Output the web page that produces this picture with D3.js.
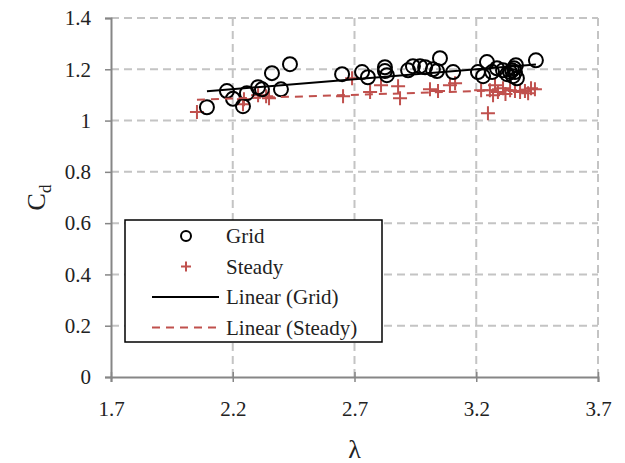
<!DOCTYPE html>
<html lang="en">
<head>
    <meta charset="UTF-8">
    <title>Cd vs lambda</title>
    <script src="https://d3js.org/d3.v7.min.js"></script>
    <style>
        html, body {
            padding: 0;
            margin: 0;
            background-color: white;
        }
    </style>
</head>
<body>
<script>
    // Grid points (lambda, Cd)
    const gridLambda = [2.094, 2.176, 2.201, 2.242, 2.258, 2.304, 2.320, 2.361, 2.398, 2.435,
        2.649, 2.731, 2.755, 2.825, 2.825, 2.833, 2.920, 2.940, 2.969, 2.990,
        3.022, 3.051, 3.039, 3.105, 3.207, 3.228, 3.244, 3.265, 3.285, 3.310,
        3.339, 3.351, 3.359, 3.355, 3.363, 3.445, 3.327, 3.347, 3.367];
    const gridCd = [1.052, 1.115, 1.085, 1.056, 1.107, 1.130, 1.122, 1.185, 1.122, 1.220,
        1.181, 1.189, 1.169, 1.208, 1.193, 1.177, 1.196, 1.212, 1.212, 1.208,
        1.200, 1.243, 1.193, 1.189, 1.189, 1.173, 1.228, 1.189, 1.204, 1.196,
        1.189, 1.173, 1.189, 1.204, 1.216, 1.235, 1.181, 1.196, 1.165];

    // Steady points (lambda, Cd)
    const steadyLambda = [2.053, 2.242, 2.246, 2.304, 2.337, 2.349, 2.653, 2.690, 2.764, 2.809,
        2.879, 2.887, 3.010, 3.043, 3.092, 3.113, 3.220, 3.248, 3.256, 3.277,
        3.289, 3.310, 3.339, 3.359, 3.380, 3.400, 3.413, 3.425, 3.441, 3.269, 3.320];
    const steadyCd = [1.033, 1.064, 1.083, 1.099, 1.095, 1.087, 1.095, 1.165, 1.111, 1.138,
        1.134, 1.087, 1.122, 1.115, 1.138, 1.146, 1.118, 1.029, 1.118, 1.138,
        1.111, 1.126, 1.118, 1.115, 1.111, 1.115, 1.107, 1.126, 1.122, 1.099, 1.104];

    const xTicks = [1.7, 2.2, 2.7, 3.2, 3.7];
    const yTicks = [0, 0.2, 0.4, 0.6, 0.8, 1, 1.2, 1.4];

    const width = 625, height = 463;
    const margin = {left: 111, right: 27, top: 18, bottom: 86};
    const serif = "'Liberation Serif', 'Times New Roman', 'DejaVu Serif', serif";

    const svg = d3.select("body").append("svg")
        .attr("width", width)
        .attr("height", height)
        .attr("font-family", serif);

    const x = d3.scaleLinear().domain([1.7, 3.7]).range([margin.left, width - margin.right]);
    const y = d3.scaleLinear().domain([0, 1.4]).range([height - margin.bottom, margin.top]);

    // gridlines
    const grid = svg.append("g")
        .attr("stroke", "#c4c4c4")
        .attr("stroke-width", 2)
        .attr("stroke-dasharray", "8,5");
    grid.selectAll(".gy")
        .data(yTicks.slice(1))
        .join("line")
        .attr("x1", x(1.7)).attr("x2", x(3.7))
        .attr("y1", d => y(d)).attr("y2", d => y(d));
    grid.selectAll(".gx")
        .data(xTicks.slice(1))
        .join("line")
        .attr("x1", d => x(d)).attr("x2", d => x(d))
        .attr("y1", y(0)).attr("y2", y(1.4));

    // axes
    const xAxis = svg.append("g")
        .attr("transform", `translate(0,${y(0)})`)
        .call(d3.axisBottom(x).tickValues(xTicks).tickFormat(d3.format(".1f")).tickSize(5).tickPadding(19));
    const yAxis = svg.append("g")
        .attr("transform", `translate(${x(1.7)},0)`)
        .call(d3.axisLeft(y).tickValues(yTicks).tickFormat(d => d === 0 || d === 1 ? d : d3.format(".1f")(d)).tickSize(6).tickPadding(14));

    [xAxis, yAxis].forEach(a => {
        a.attr("font-family", serif).attr("font-size", 21);
        a.select(".domain").attr("stroke", "#868686").attr("stroke-width", 2);
        a.selectAll(".tick line").attr("stroke", "#868686").attr("stroke-width", 1.5);
        a.selectAll("text").attr("fill", "#222");
    });
    // small ticks above the x axis too
    xAxis.selectAll(".tick line").attr("y1", -5);

    // axis titles
    svg.append("text")
        .attr("x", x(2.7))
        .attr("y", 458)
        .attr("text-anchor", "middle")
        .attr("font-size", 26)
        .attr("fill", "#222")
        .text("λ");
    const yt = svg.append("text")
        .attr("transform", `translate(45,${y(0.7)}) rotate(-90)`)
        .attr("text-anchor", "middle")
        .attr("font-size", 26)
        .attr("fill", "#222");
    yt.append("tspan").text("C");
    yt.append("tspan").attr("dy", 6).attr("font-size", 17).text("d");

    // linear trendlines (least squares)
    function fit(xs, ys) {
        const mx = d3.mean(xs), my = d3.mean(ys);
        let sxy = 0, sxx = 0;
        xs.forEach((v, i) => { sxy += (v - mx) * (ys[i] - my); sxx += (v - mx) * (v - mx); });
        const b = sxy / sxx;
        return {a: my - b * mx, b: b, x0: d3.min(xs), x1: d3.max(xs)};
    }
    const gFit = fit(gridLambda, gridCd);
    const sFit = fit(steadyLambda, steadyCd);

    // steady crosses
    const red = "#c0504d";
    svg.append("g")
        .selectAll("path")
        .data(steadyLambda.map((v, i) => [v, steadyCd[i]]))
        .join("path")
        .attr("d", d => `M${x(d[0]) - 7},${y(d[1])}h14M${x(d[0])},${y(d[1]) - 7}v14`)
        .attr("stroke", red)
        .attr("stroke-width", 2)
        .attr("fill", "none");

    // grid circles
    svg.append("g")
        .selectAll("circle")
        .data(gridLambda.map((v, i) => [v, gridCd[i]]))
        .join("circle")
        .attr("cx", d => x(d[0]))
        .attr("cy", d => y(d[1]))
        .attr("r", 7)
        .attr("fill", "none")
        .attr("stroke", "black")
        .attr("stroke-width", 2);

    svg.append("line")
        .attr("x1", x(sFit.x0)).attr("y1", y(sFit.a + sFit.b * sFit.x0))
        .attr("x2", x(sFit.x1)).attr("y2", y(sFit.a + sFit.b * sFit.x1))
        .attr("stroke", red).attr("stroke-width", 2).attr("stroke-dasharray", "8,6");
    svg.append("line")
        .attr("x1", x(gFit.x0)).attr("y1", y(gFit.a + gFit.b * gFit.x0))
        .attr("x2", x(gFit.x1)).attr("y2", y(gFit.a + gFit.b * gFit.x1))
        .attr("stroke", "black").attr("stroke-width", 2);

    // legend
    const lg = svg.append("g").attr("transform", "translate(125,220)");
    lg.append("rect")
        .attr("width", 257).attr("height", 122)
        .attr("fill", "white").attr("stroke", "black").attr("stroke-width", 1.5);
    const items = ["Grid", "Steady", "Linear (Grid)", "Linear (Steady)"];
    items.forEach((name, i) => {
        const cy = 16 + i * 30.5;
        lg.append("text")
            .attr("x", 101).attr("y", cy + 7)
            .attr("font-size", 21)
            .attr("fill", "#222")
            .text(name);
        if (i === 0) {
            lg.append("circle").attr("cx", 61).attr("cy", cy).attr("r", 5)
                .attr("fill", "none").attr("stroke", "black").attr("stroke-width", 2);
        } else if (i === 1) {
            lg.append("path").attr("d", `M${56},${cy}h10M61,${cy - 5}v10`)
                .attr("stroke", red).attr("stroke-width", 2);
        } else {
            lg.append("line").attr("x1", 27).attr("x2", 94).attr("y1", cy).attr("y2", cy)
                .attr("stroke", i === 2 ? "black" : red).attr("stroke-width", 2)
                .attr("stroke-dasharray", i === 2 ? null : "8,6");
        }
    });
</script>
</body>
</html>
